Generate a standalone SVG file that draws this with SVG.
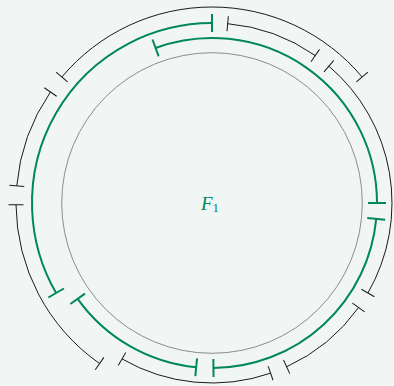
<svg xmlns="http://www.w3.org/2000/svg" width="394" height="386" viewBox="0 0 394 386">
  <style>
    .blk { fill: none; stroke: #1a1a1a; stroke-width: 1; marker-start: url(#tb); marker-end: url(#tb); }
    .grn { fill: none; stroke: #00875a; stroke-width: 2; marker-start: url(#tg); marker-end: url(#tg); }
    .lbl { font-family: "Liberation Serif", "DejaVu Serif", serif; fill: #00875a; }
  </style>
  <defs>
    <marker id="tb" viewBox="-2 -8 4 16" markerWidth="4" markerHeight="16" refX="0" refY="0" orient="auto" markerUnits="userSpaceOnUse" overflow="visible">
      <line x1="0" y1="-7.5" x2="0" y2="7.5" stroke="#1a1a1a" stroke-width="1"/>
    </marker>
    <marker id="tg" viewBox="-2 -10 4 20" markerWidth="4" markerHeight="20" refX="0" refY="0" orient="auto" markerUnits="userSpaceOnUse" overflow="visible">
      <line x1="0" y1="-9" x2="0" y2="9" stroke="#00875a" stroke-width="2"/>
    </marker>
  </defs>
  <rect x="0" y="0" width="394" height="386" fill="#f1f6f4"/>
  <g id="base">
    <circle cx="212" cy="203" r="150.3" fill="none" stroke="#8c8c8c" stroke-width="1"/>
  </g>
  <g id="connectors">
    <g id="outer-black">
      <path id="A" class="blk" d="M 362.14 77.01 A 196 196 0 0 0 61.86 77.01"/>
      <path id="E" class="blk" d="M 50.47 91.98 A 196 196 0 0 0 16.75 185.92"/>
      <path id="F" class="blk" d="M 16.01 204.71 A 196 196 0 0 0 99.58 363.55"/>
    </g>
    <g id="inner-black">
      <path id="G" class="blk" d="M 122 358.88 A 180 180 0 0 0 270.6 373.19"/>
      <path id="D" class="blk" d="M 286.64 366.79 A 180 180 0 0 0 358.54 307.53"/>
      <path id="C" class="blk" d="M 367.88 293 A 180 180 0 0 0 328.9 66.13"/>
      <path id="B" class="blk" d="M 315.24 55.55 A 180 180 0 0 0 227.69 23.69"/>
    </g>
    <g id="green">
      <path id="G1" class="grn" d="M 212 23 A 180 180 0 0 0 56.12 293"/>
      <path id="G2" class="grn" d="M 77.67 298.82 A 165 165 0 0 0 196.18 367.24"/>
      <path id="G3" class="grn" d="M 213.44 367.99 A 165 165 0 0 0 376.24 218.82"/>
      <path id="G4" class="grn" d="M 377 203 A 165 165 0 0 0 155.57 47.95"/>
    </g>
  </g>
  <g id="label">
    <text class="lbl" x="201" y="209.5" font-size="19" font-style="italic">F<tspan font-style="normal" font-size="13" dy="2.5">1</tspan></text>
  </g>
</svg>
